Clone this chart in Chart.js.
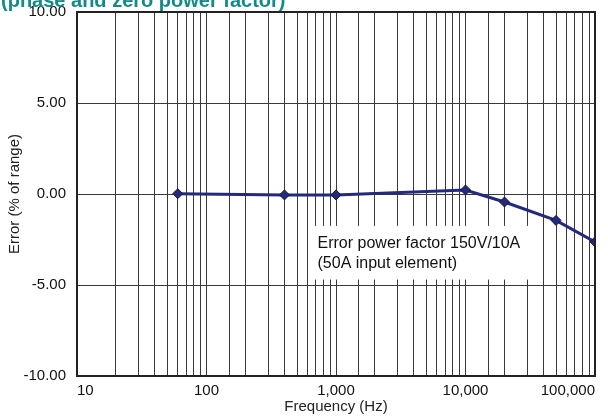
<!DOCTYPE html>
<html>
<head>
<meta charset="utf-8">
<script src="https://cdn.jsdelivr.net/npm/chart.js@4"></script>
<style>
  html, body { margin: 0; padding: 0; background: #fff; }
  #wrap { width: 608px; height: 416px; }
</style>
</head>
<body>
<div id="wrap"><canvas id="chart"></canvas></div>
<script>
// frequency points (Hz) and error (% of range)
var frequencies = [60, 400, 1000, 10000, 20000, 50000, 100000];
var errors = [0.02, -0.05, -0.05, 0.22, -0.44, -1.45, -2.63];
var yTicks = [-10, -5, 0, 5, 10];
var xMajor = [10, 100, 1000, 10000, 100000];
var titleText = '(phase and zero power factor)';
var noteLines = ['Error power factor 150V/10A', '(50A input element)'];

var lineColor = '#232a7c';
var fontName = '"Liberation Sans", Arial, sans-serif';

var points = [];
for (var i = 0; i < frequencies.length; i++) {
  points.push({x: frequencies[i], y: errors[i]});
}

// title is cut off at the top of the picture, draw it by hand
var titlePlugin = {
  id: 'cutTitle',
  afterDraw: function(chart) {
    var ctx = chart.ctx;
    ctx.save();
    ctx.font = 'bold 20px ' + fontName;
    ctx.fillStyle = '#128a8a';
    ctx.textBaseline = 'alphabetic';
    ctx.fillText(titleText, 1, 7);
    ctx.restore();
  }
};

// white box with the note, placed in data coordinates
var notePlugin = {
  id: 'noteBox',
  beforeDatasetsDraw: function(chart) {
    var ctx = chart.ctx;
    var xs = chart.scales.x, ys = chart.scales.y;
    var left = xs.getPixelForValue(620);
    var right = xs.getPixelForValue(36000);
    var top = ys.getPixelForValue(-1.75);
    var bottom = ys.getPixelForValue(-4.7);
    ctx.save();
    ctx.fillStyle = '#fff';
    ctx.fillRect(left, top, right - left, bottom - top);
    ctx.font = '16px ' + fontName;
    ctx.fillStyle = '#111';
    ctx.fillText(noteLines[0], xs.getPixelForValue(720), ys.getPixelForValue(-2.95));
    ctx.fillText(noteLines[1], xs.getPixelForValue(720), ys.getPixelForValue(-4.05));
    ctx.restore();
  }
};

// heavy frame round the plot
var framePlugin = {
  id: 'frame',
  afterDatasetsDraw: function(chart) {
    var a = chart.chartArea;
    var ctx = chart.ctx;
    ctx.save();
    ctx.strokeStyle = '#222';
    ctx.lineWidth = 2;
    ctx.strokeRect(a.left, a.top, a.right - a.left, a.bottom - a.top);
    ctx.restore();
  }
};

new Chart(document.getElementById('chart').getContext('2d'), {
  type: 'line',
  data: {
    datasets: [{
      data: points,
      borderColor: lineColor,
      backgroundColor: lineColor,
      borderWidth: 3,
      pointStyle: 'rectRot',
      pointRadius: 5,
      pointBackgroundColor: lineColor,
      pointBorderColor: '#111640',
      pointBorderWidth: 1,
      tension: 0,
      fill: false
    }]
  },
  options: {
    responsive: true,
    maintainAspectRatio: false,
    animation: false,
    layout: { padding: { top: 12, right: 13, left: 0, bottom: 0 } },
    plugins: {
      legend: { display: false },
      tooltip: { enabled: false }
    },
    scales: {
      x: {
        type: 'logarithmic',
        min: 10,
        max: 100000,
        grid: { color: '#3a3a3a', lineWidth: 1, drawTicks: false },
        border: { display: false },
        ticks: {
          autoSkip: false,
          maxRotation: 0,
          align: 'inner',
          padding: 6,
          color: '#111',
          font: { family: fontName, size: 15 },
          callback: function(v) {
            return xMajor.indexOf(v) >= 0 ? v.toLocaleString('en-US') : '';
          }
        },
        title: {
          display: true,
          text: 'Frequency (Hz)',
          color: '#222',
          font: { family: fontName, size: 15 },
          padding: { top: 0, bottom: 0 }
        },
        afterFit: function(s) { s.height = 40; s.paddingLeft = 0; s.paddingRight = 0; }
      },
      y: {
        min: -10,
        max: 10,
        afterBuildTicks: function(s) {
          s.ticks = yTicks.map(function(v) { return {value: v}; });
        },
        grid: { color: '#3a3a3a', lineWidth: 1, drawTicks: false },
        border: { display: false },
        ticks: {
          padding: 11,
          color: '#111',
          font: { family: fontName, size: 15 },
          callback: function(v) { return v.toFixed(2); }
        },
        title: {
          display: true,
          text: 'Error (% of range)',
          color: '#222',
          font: { family: fontName, size: 15 },
          padding: { top: 6, bottom: 0 }
        },
        afterFit: function(s) { s.width = 77; s.paddingTop = 0; s.paddingBottom = 0; }
      }
    }
  },
  plugins: [notePlugin, framePlugin, titlePlugin]
});
</script>
</body>
</html>
